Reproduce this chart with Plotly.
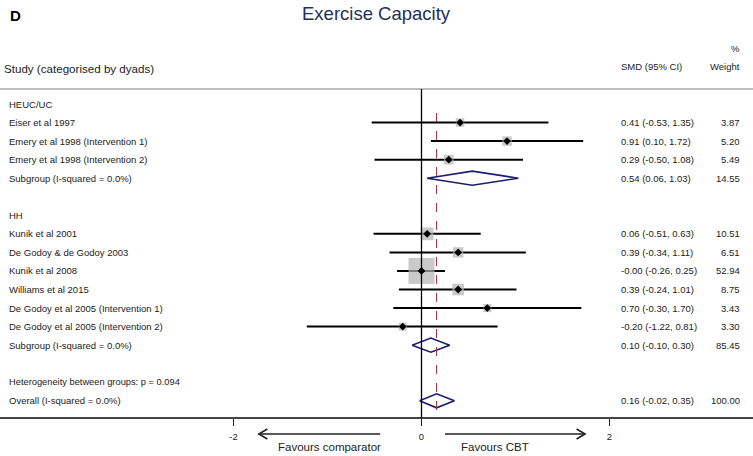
import plotly.graph_objects as go
import numpy as np

# ---------------- data ----------------
group_names = ["HEUC/UC", "HH"]
studies = ["Eiser et al 1997", "Emery et al 1998 (Intervention 1)", "Emery et al 1998 (Intervention 2)",
           "Kunik et al 2001", "De Godoy & de Godoy 2003", "Kunik et al 2008", "Williams et al 2015",
           "De Godoy et al 2005 (Intervention 1)", "De Godoy et al 2005 (Intervention 2)"]
study_group = ["HEUC/UC", "HEUC/UC", "HEUC/UC", "HH", "HH", "HH", "HH", "HH", "HH"]
smd = [0.41, 0.91, 0.29, 0.06, 0.39, -0.00, 0.39, 0.70, -0.20]
lci = [-0.53, 0.10, -0.50, -0.51, -0.34, -0.26, -0.24, -0.30, -1.22]
uci = [1.35, 1.72, 1.08, 0.63, 1.11, 0.25, 1.01, 1.70, 0.81]
weight = [3.87, 5.20, 5.49, 10.51, 6.51, 52.94, 8.75, 3.43, 3.30]

sub_smd = [0.54, 0.10]
sub_lci = [0.06, -0.10]
sub_uci = [1.03, 0.30]
sub_weight = [14.55, 85.45]
sub_label = "Subgroup (I-squared = 0.0%)"

overall_smd, overall_lci, overall_uci, overall_weight = 0.16, -0.02, 0.35, 100.00
overall_label = "Overall (I-squared = 0.0%)"
het_label = "Heterogeneity between groups: p = 0.094"

tick_vals = [-2, 0, 2]
tick_text = ["-2", "0", "2"]

# ---------------- layout helpers ----------------
W, H = 753, 456
X0PX, PXU = 421.5, 94.0          # pixel of x=0, pixels per unit
ROW0PX, ROWPX = 104.0, 18.55     # pixel of row 0, pixels per row
def py(px):  # pixel y -> paper y
    return 1 - px / H
def pxp(px):  # pixel x -> paper x
    return px / W

fmt_ci = lambda e, l, u: f"{e:.2f} ({l:.2f}, {u:.2f})"

# build rows
rows = []  # (kind, label, idx)
r = 0
study_rows, sub_rows = [], []
for gi, g in enumerate(group_names):
    rows.append(("header", g, r)); r += 1
    for si, s in enumerate(studies):
        if study_group[si] == g:
            study_rows.append(r); rows.append(("study", s, r)); r += 1
    sub_rows.append(r); rows.append(("sub", sub_label, r)); r += 1
    r += 1
het_row = r
rows.append(("het", het_label, het_row))
overall_row = het_row + 1
rows.append(("overall", overall_label, overall_row))

fig = go.Figure()
TXT = "#222222"
NAVY = "#1c1c6e"
FS = 9.5

# CI lines
for i, rr in enumerate(study_rows):
    fig.add_trace(go.Scatter(x=[lci[i], uci[i]], y=[rr, rr], mode="lines",
                             line=dict(color="black", width=2), hoverinfo="skip", showlegend=False))
# weight squares
sizes = [2 + 24 * np.sqrt(w / max(weight)) for w in weight]
fig.add_trace(go.Scatter(x=smd, y=study_rows, mode="markers",
                         marker=dict(symbol="square", size=sizes, color="#b4b4b4", line=dict(width=0)),
                         hoverinfo="skip", showlegend=False))
fig.add_trace(go.Scatter(x=smd, y=study_rows, mode="markers",
                         marker=dict(symbol="diamond", size=6, color="black"),
                         hoverinfo="skip", showlegend=False))

# diamonds
hd = 0.38
def diamond(e, l, u, rr):
    fig.add_trace(go.Scatter(x=[l, e, u, e, l], y=[rr, rr - hd, rr, rr + hd, rr], mode="lines",
                             line=dict(color=NAVY, width=1.6), hoverinfo="skip", showlegend=False))
for k, rr in enumerate(sub_rows):
    diamond(sub_smd[k], sub_lci[k], sub_uci[k], rr)
diamond(overall_smd, overall_lci, overall_uci, overall_row)

ann = []
def txt(x, y, t, size=FS, xanchor="left", yref="y", color=TXT, xref="paper", **kw):
    ann.append(dict(x=x, y=y, xref=xref, yref=yref, text=t, showarrow=False, xanchor=xanchor,
                    yanchor="middle", font=dict(size=size, color=color, family="Liberation Sans, Arial"), **kw))

for kind, label, rr in rows:
    txt(pxp(7), rr, label, size=FS if kind != "het" else 9.3)

for i, rr in enumerate(study_rows):
    txt(pxp(619), rr, fmt_ci(smd[i], lci[i], uci[i]))
    txt(pxp(742), rr, f"{weight[i]:.2f}", xanchor="right")
for k, rr in enumerate(sub_rows):
    txt(pxp(619), rr, fmt_ci(sub_smd[k], sub_lci[k], sub_uci[k]))
    txt(pxp(742), rr, f"{sub_weight[k]:.2f}", xanchor="right")
txt(pxp(619), overall_row, fmt_ci(overall_smd, overall_lci, overall_uci))
txt(pxp(742), overall_row, f"{overall_weight:.2f}", xanchor="right")

# headers
txt(pxp(2), py(69), "Study (categorised by dyads)", size=11.6, yref="paper")
txt(pxp(619), py(67), "SMD (95% CI)", yref="paper")
txt(pxp(742), py(67), "Weight", xanchor="right", yref="paper")
txt(pxp(742), py(48), "%", xanchor="right", yref="paper")
txt(0.5, py(14), "Exercise Capacity", size=18.5, xanchor="center", yref="paper", color="#23305a")
txt(pxp(8), py(15), "<b>D</b>", size=15, yref="paper", color="black")
txt(pxp(329), py(447), "Favours comparator", size=11.5, xanchor="center", yref="paper")
txt(pxp(495), py(447), "Favours CBT", size=11.5, xanchor="center", yref="paper")

shapes = []
# top rule
shapes.append(dict(type="line", xref="paper", yref="paper", x0=0, x1=1, y0=py(89), y1=py(89),
                   line=dict(color="#a8a8a8", width=1.5)))
# zero line
shapes.append(dict(type="line", xref="x", yref="paper", x0=0, x1=0, y0=py(89), y1=py(418),
                   line=dict(color="black", width=1.3)))
# overall effect dashed line
shapes.append(dict(type="line", xref="x", yref="paper", x0=overall_smd, x1=overall_smd, y0=py(113), y1=py(418),
                   line=dict(color="#a23a4a", width=1.1, dash="dash")))
# arrows
ay = py(434)
for tail, head in [(-0.44, -1.73), (0.25, 1.74)]:
    shapes.append(dict(type="line", xref="x", yref="paper", x0=tail, x1=head, y0=ay, y1=ay,
                       line=dict(color="#222", width=1.6)))
    d = 0.09 if head < tail else -0.09
    shapes.append(dict(type="path", xref="x", yref="paper",
                       path=f"M {head + d},{ay + 5/H} L {head},{ay} L {head + d},{ay - 5/H}",
                       line=dict(color="#222", width=1.6)))

fig.update_layout(
    width=W, height=H, margin=dict(l=0, r=0, t=0, b=0, pad=0),
    paper_bgcolor="white", plot_bgcolor="white",
    annotations=ann, shapes=shapes, showlegend=False,
    xaxis=dict(range=[-X0PX / PXU, (W - X0PX) / PXU], domain=[0, 1], anchor="free", position=py(418),
               showline=True, linecolor="#444", linewidth=2, ticks="outside", ticklen=7, tickwidth=1.3,
               tickcolor="#222", tickvals=tick_vals, ticktext=tick_text, showgrid=False, zeroline=False,
               ticklabelstandoff=3,
               tickfont=dict(size=9.5, color=TXT, family="Liberation Sans, Arial"), fixedrange=True),
    yaxis=dict(range=[(H - ROW0PX) / ROWPX, -ROW0PX / ROWPX], visible=False, showgrid=False,
               zeroline=False, fixedrange=True),
)
fig.write_html("out.html", config={"displayModeBar": False},
               post_script="document.body.style.margin='0';document.body.style.overflow='hidden';")
